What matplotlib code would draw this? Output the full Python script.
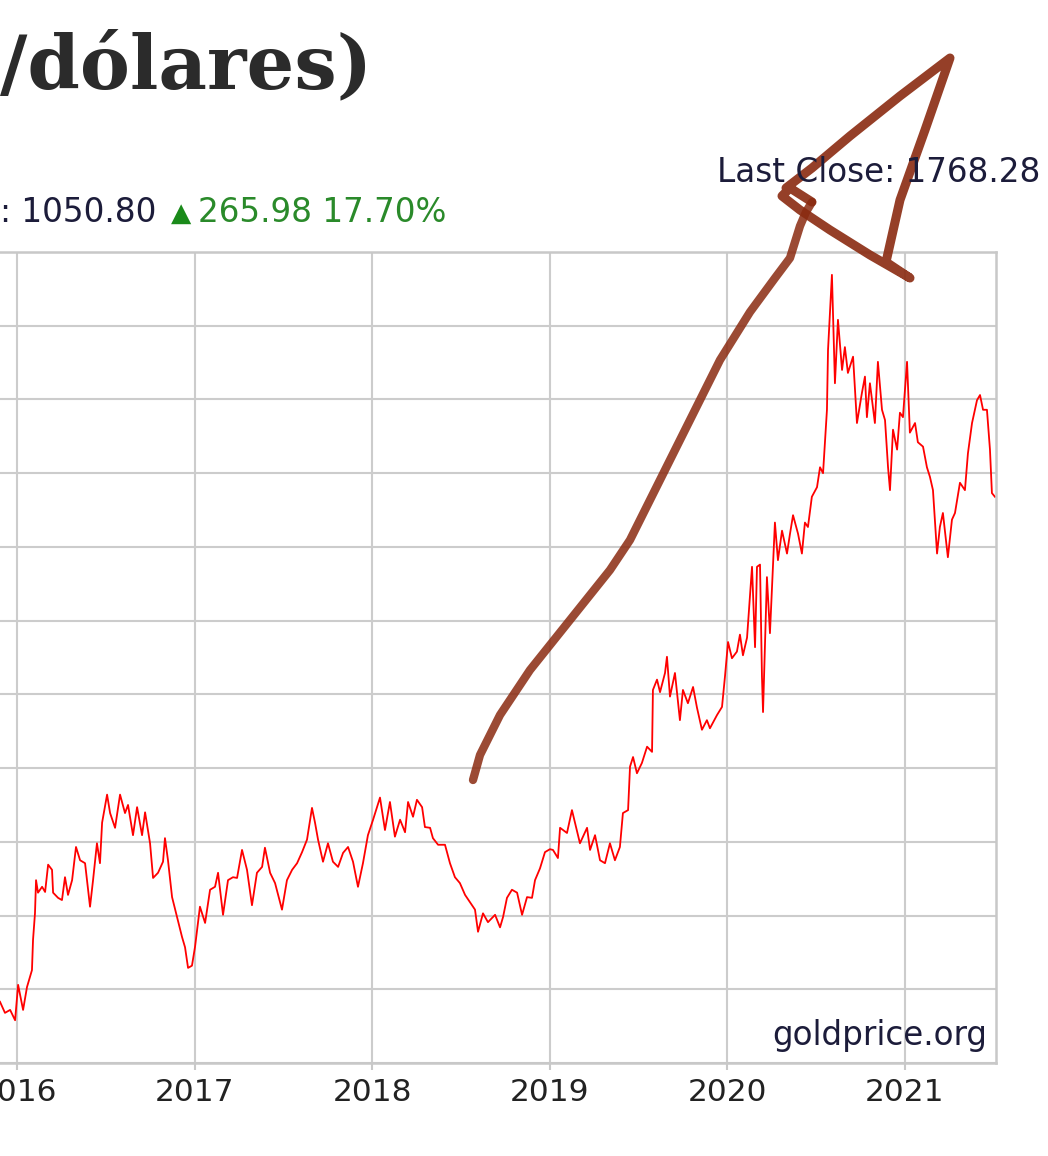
import matplotlib
matplotlib.use("Agg")
from matplotlib import pyplot as plt

# precio semanal del oro (USD/onza)
anos = [2015.904, 2015.932, 2015.961, 2015.989, 2016.006, 2016.034, 2016.056, 2016.084, 2016.090, 2016.101,
        2016.107, 2016.118, 2016.141, 2016.158, 2016.175, 2016.197, 2016.203, 2016.231, 2016.253, 2016.270,
        2016.287, 2016.310, 2016.332, 2016.355, 2016.383, 2016.411, 2016.428, 2016.450, 2016.467, 2016.479,
        2016.507, 2016.524, 2016.552, 2016.580, 2016.608, 2016.625, 2016.653, 2016.676, 2016.704, 2016.721,
        2016.749, 2016.766, 2016.794, 2016.822, 2016.833, 2016.850, 2016.873, 2016.901, 2016.929, 2016.946,
        2016.963, 2016.985, 2017.002, 2017.030, 2017.059, 2017.087, 2017.115, 2017.132, 2017.160, 2017.188,
        2017.216, 2017.239, 2017.267, 2017.295, 2017.323, 2017.351, 2017.380, 2017.396, 2017.425, 2017.453,
        2017.492, 2017.520, 2017.549, 2017.577, 2017.605, 2017.633, 2017.661, 2017.678, 2017.695, 2017.723,
        2017.751, 2017.779, 2017.808, 2017.836, 2017.864, 2017.892, 2017.920, 2017.948, 2017.976, 2018.005,
        2018.044, 2018.072, 2018.100, 2018.128, 2018.157, 2018.185, 2018.202, 2018.230, 2018.252, 2018.281,
        2018.297, 2018.326, 2018.342, 2018.371, 2018.410, 2018.438, 2018.466, 2018.494, 2018.523, 2018.551,
        2018.579, 2018.596, 2018.624, 2018.652, 2018.692, 2018.720, 2018.737, 2018.759, 2018.787, 2018.816,
        2018.844, 2018.872, 2018.900, 2018.917, 2018.945, 2018.973, 2019.001, 2019.018, 2019.046, 2019.058,
        2019.097, 2019.125, 2019.142, 2019.170, 2019.210, 2019.227, 2019.255, 2019.283, 2019.311, 2019.339,
        2019.367, 2019.395, 2019.412, 2019.441, 2019.452, 2019.469, 2019.491, 2019.519, 2019.548, 2019.576,
        2019.581, 2019.604, 2019.621, 2019.649, 2019.660, 2019.677, 2019.705, 2019.733, 2019.750, 2019.778,
        2019.807, 2019.829, 2019.857, 2019.885, 2019.902, 2019.942, 2019.970, 2019.987, 2020.004, 2020.026,
        2020.054, 2020.071, 2020.088, 2020.111, 2020.139, 2020.156, 2020.167, 2020.184, 2020.195, 2020.201,
        2020.223, 2020.240, 2020.257, 2020.268, 2020.285, 2020.308, 2020.336, 2020.353, 2020.370, 2020.398,
        2020.420, 2020.437, 2020.454, 2020.476, 2020.505, 2020.522, 2020.539, 2020.561, 2020.567, 2020.589,
        2020.606, 2020.623, 2020.646, 2020.662, 2020.679, 2020.708, 2020.730, 2020.758, 2020.775, 2020.786,
        2020.803, 2020.831, 2020.848, 2020.871, 2020.888, 2020.905, 2020.916, 2020.933, 2020.956, 2020.972,
        2020.989, 2021.012, 2021.028, 2021.057, 2021.073, 2021.102, 2021.124, 2021.141, 2021.158, 2021.181,
        2021.197, 2021.214, 2021.242, 2021.265, 2021.282, 2021.310, 2021.338, 2021.355, 2021.378, 2021.406,
        2021.423, 2021.440, 2021.462, 2021.479, 2021.490, 2021.507]
precio = [1083, 1068, 1072, 1058, 1106, 1072, 1103, 1126, 1167, 1203,
          1248, 1231, 1239, 1232, 1269, 1262, 1231, 1224, 1221, 1252,
          1228, 1248, 1293, 1275, 1271, 1212, 1248, 1298, 1271, 1326,
          1364, 1339, 1319, 1364, 1339, 1350, 1309, 1347, 1309, 1340,
          1298, 1251, 1258, 1273, 1305, 1275, 1225, 1198, 1171, 1157,
          1129, 1132, 1157, 1212, 1190, 1235, 1239, 1258, 1201, 1248,
          1252, 1251, 1289, 1262, 1214, 1258, 1266, 1292, 1258, 1244,
          1208, 1248, 1262, 1271, 1286, 1303, 1346, 1326, 1303, 1273,
          1298, 1273, 1266, 1285, 1293, 1273, 1239, 1271, 1309, 1330,
          1360, 1316, 1354, 1307, 1330, 1313, 1354, 1334, 1357, 1347,
          1320, 1319, 1305, 1296, 1296, 1271, 1252, 1244, 1228, 1218,
          1208, 1178, 1203, 1191, 1201, 1184, 1198, 1224, 1235, 1231,
          1201, 1225, 1224, 1248, 1264, 1286, 1290, 1289, 1278, 1319,
          1312, 1343, 1326, 1298, 1319, 1289, 1309, 1275, 1271, 1298,
          1275, 1293, 1339, 1343, 1402, 1415, 1393, 1407, 1429, 1422,
          1506, 1520, 1503, 1529, 1551, 1497, 1529, 1465, 1506, 1488,
          1510, 1482, 1452, 1465, 1454, 1472, 1483, 1525, 1571, 1549,
          1558, 1581, 1553, 1577, 1673, 1564, 1673, 1676, 1524, 1476,
          1659, 1583, 1673, 1733, 1682, 1722, 1691, 1718, 1743, 1718,
          1691, 1733, 1727, 1768, 1781, 1808, 1800, 1886, 1967, 2069,
          1922, 2008, 1940, 1971, 1936, 1958, 1868, 1909, 1931, 1876,
          1922, 1868, 1951, 1886, 1872, 1808, 1777, 1859, 1832, 1882,
          1876, 1951, 1855, 1868, 1842, 1836, 1808, 1795, 1777, 1691,
          1727, 1746, 1686, 1737, 1746, 1787, 1777, 1827, 1868, 1899,
          1906, 1886, 1886, 1832, 1773, 1768]

anos_ticks = [2016, 2017, 2018, 2019, 2020, 2021]
etiquetas = ["2016", "2017", "2018", "2019", "2020", "2021"]

# trazo a mano (pixeles de la captura)
trazo_x = [473, 480, 500, 530, 570, 610, 630, 650, 670, 690, 720, 750, 775, 790, 795, 800, 806, 812]
trazo_y = [780, 755, 715, 670, 620, 570, 540, 500, 460, 420, 360, 312, 278, 258, 242, 226, 212, 202]
triang_x = [812, 790, 782, 800, 830, 870, 910, 886, 900, 925, 950, 900, 850, 812, 786]
triang_y = [202, 188, 196, 210, 230, 255, 278, 262, 200, 130, 58, 96, 136, 168, 188]

W, H = 1048, 1156
fig = plt.figure(figsize=(W / 100, H / 100), dpi=100)
ax = fig.add_axes([0, (H - 1063) / H, 996 / W, 811 / H])

ax.plot(anos, precio, color="#ff0000", lw=1.3)
ax.set_xlim(2015.904, 2021.513)
ax.set_ylim(1000, 2100)
ax.set_xticks(anos_ticks)
ax.set_xticklabels(etiquetas)
ax.set_yticks(range(1000, 2101, 100))
ax.tick_params(axis="y", left=False, labelleft=False)
ax.tick_params(axis="x", length=5, width=1.5, color="#c8c8c8", labelsize=22.5,
               labelcolor="#222222", pad=6)
ax.grid(True, color="#cccccc", lw=1.5)
for s in ax.spines.values():
    s.set_color("#c8c8c8")
    s.set_linewidth(1.8)
ax.spines["left"].set_visible(False)

ax.text(0.991, 0.013, "goldprice.org", transform=ax.transAxes, ha="right", va="bottom",
        fontsize=23.5, color="#1c1c3a")

# cabecera
fig.text(0.0, 1 - 68 / H, "/dólares)", family="DejaVu Serif", weight="bold",
         fontsize=54, color="#2b2b2b", va="center", ha="left")
fig.text(1040 / W, 1 - 173 / H, "Last Close: 1768.28", fontsize=23.5, color="#1c1c3a",
         ha="right", va="center")
fig.text(0.0, 1 - 212 / H, ": 1050.80", fontsize=23.5, color="#1c1c3a", ha="left", va="center")
fig.text(171 / W, 1 - 214 / H, "▲", fontsize=19, color="#1a8a1a", ha="left", va="center")
fig.text(198 / W, 1 - 212 / H, "265.98 17.70%", fontsize=23.5, color="#2a8a2a",
         ha="left", va="center")

# anotacion a mano
fig.add_artist(plt.Line2D([x / W for x in trazo_x], [1 - y / H for y in trazo_y],
                          color="#8a2a10", alpha=0.85, lw=6, solid_capstyle="round",
                          solid_joinstyle="round"))
fig.add_artist(plt.Line2D([x / W for x in triang_x], [1 - y / H for y in triang_y],
                          color="#8a2a10", alpha=0.9, lw=6.5, solid_capstyle="round",
                          solid_joinstyle="round"))

fig.savefig("out.png", dpi=100)
